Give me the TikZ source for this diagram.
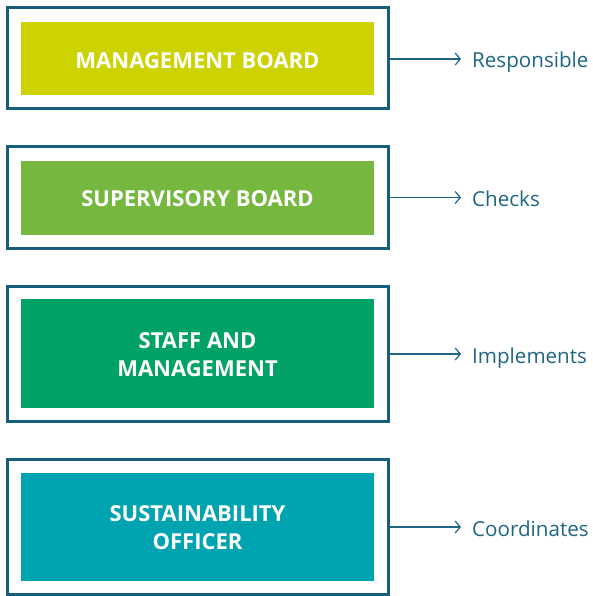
\documentclass[tikz,border=0pt]{standalone}
\usepackage{fontspec}
\setmainfont{Open Sans}
\usetikzlibrary{arrows.meta}
\definecolor{frame}{HTML}{165E7C}
\definecolor{lab}{HTML}{1F6585}
\definecolor{cA}{HTML}{CCD300}
\definecolor{cB}{HTML}{76B73F}
\definecolor{cC}{HTML}{00A265}
\definecolor{cD}{HTML}{00A3B0}
\begin{document}
\begin{tikzpicture}[x=1pt,y=-1pt,
  outerbox/.style={draw=frame,line width=3pt,fill=white},
  boxtext/.style={text=white,font=\fontsize{22}{28}\selectfont\bfseries,align=center,inner sep=0pt},
  sidetext/.style={text=lab,font=\fontsize{20.6}{24}\selectfont,anchor=base west,inner sep=0pt},
  conn/.style={draw=lab,line width=1.2pt,-{Straight Barb[length=5pt,width=12pt,line width=1.2pt]}}]
\useasboundingbox (0,0) rectangle (593,596);
% box 1
\draw[outerbox] (7,7.5) rectangle (388,108.5);
\fill[cA] (21,22) rectangle (374,95);
\node[boxtext] (t1) at (197.5,61) {MANAGEMENT BOARD};
\coordinate (o1) at (389.5,59);
\node[sidetext] (r1) at (472,68) {Responsible};
\draw[conn] (o1) -- (461,59);
% box 2
\draw[outerbox] (7,147) rectangle (388,248);
\fill[cB] (21,161) rectangle (374,235);
\node[boxtext] (t2) at (197.5,199) {SUPERVISORY BOARD};
\coordinate (o2) at (389.5,197.5);
\node[sidetext] (r2) at (472,206.5) {Checks};
\draw[conn] (o2) -- (461,197.5);
% box 3
\draw[outerbox] (7,286) rectangle (388,421.5);
\fill[cC] (21,299) rectangle (374,408);
\node[boxtext] (t3) at (197.5,355) {STAFF AND\\MANAGEMENT};
\coordinate (o3) at (389.5,354);
\node[sidetext] (r3) at (472,363) {Implements};
\draw[conn] (o3) -- (461,354);
% box 4
\draw[outerbox] (7,459) rectangle (388,594);
\fill[cD] (21,473) rectangle (374,581);
\node[boxtext] (t4) at (197.5,527.5) {SUSTAINABILITY\\OFFICER};
\coordinate (o4) at (389.5,527);
\node[sidetext] (r4) at (472,536) {Coordinates};
\draw[conn] (o4) -- (461,527);
\end{tikzpicture}
\end{document}
